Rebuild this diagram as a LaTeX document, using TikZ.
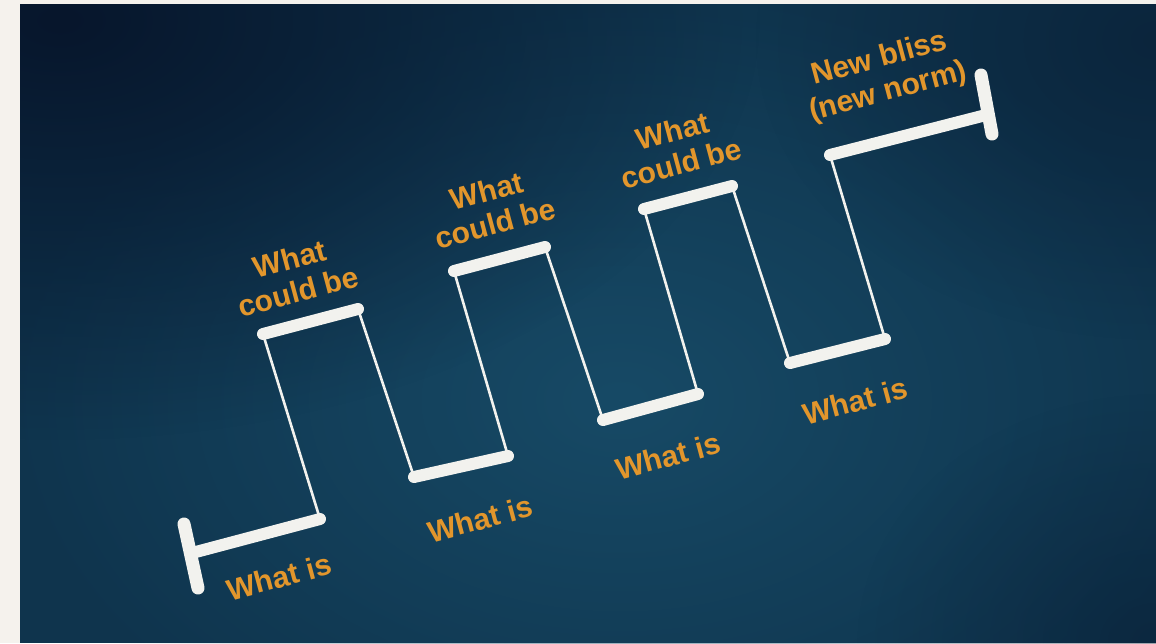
\documentclass[tikz,border=0pt]{standalone}
\usepackage{fontspec}
\usetikzlibrary{fadings}
\setmainfont{Liberation Sans}
\definecolor{paper}{RGB}{245,242,237}
\definecolor{bgbase}{RGB}{15,52,77}
\definecolor{bglight}{RGB}{23,74,102}
\definecolor{bgdark}{RGB}{7,22,44}
\definecolor{chalk}{RGB}{242,242,238}
\definecolor{labelc}{RGB}{226,150,44}
\tikzfading[name=softglow, inner color=transparent!0, outer color=transparent!100]
\tikzset{
  bar/.style={draw=chalk, line width=12pt, line cap=round},
  tbar/.style={draw=chalk, line width=13pt, line cap=round},
  thin/.style={draw=chalk, line width=2.6pt, line cap=round},
  lab/.style={text=labelc, font=\bfseries\fontsize{30}{34}\selectfont, rotate=15, align=center, inner sep=0pt}
}
\begin{document}
\begin{tikzpicture}[x=1pt,y=-1pt]
\useasboundingbox (0,0) rectangle (1156,643);
\fill[paper] (0,0) rectangle (1156,643);
\begin{scope}
\clip (20,4) rectangle (1156,643);
\fill[bgbase] (20,4) rectangle (1156,643);
\fill[bglight, path fading=softglow] (620,400) ellipse [x radius=620, y radius=420];
\fill[bgdark, path fading=softglow] (60,20) ellipse [x radius=700, y radius=420];
\fill[bgdark, path fading=softglow, opacity=0.5] (1156,40) ellipse [x radius=400, y radius=300];
\fill[bgdark, path fading=softglow, opacity=0.4] (1156,643) ellipse [x radius=300, y radius=250];
\end{scope}
% corner coordinates of the wave
\coordinate (s1) at (184,524); \coordinate (s2) at (198,588);
\coordinate (b1a) at (192,553); \coordinate (b1b) at (320,519);
\coordinate (t1a) at (263,334); \coordinate (t1b) at (358,309);
\coordinate (b2a) at (414,477); \coordinate (b2b) at (508,456);
\coordinate (t2a) at (454,271); \coordinate (t2b) at (545,247);
\coordinate (b3a) at (603,420); \coordinate (b3b) at (698,394);
\coordinate (t3a) at (644,209); \coordinate (t3b) at (732,186);
\coordinate (b4a) at (790,363); \coordinate (b4b) at (885,339);
\coordinate (t4a) at (830,155); \coordinate (t4b) at (986,115);
\coordinate (e1) at (981,75); \coordinate (e2) at (992,134);
% thin risers and fallers
\draw[thin] (b1b) -- (t1a);
\draw[thin] (t1b) -- (b2a);
\draw[thin] (b2b) -- (t2a);
\draw[thin] (t2b) -- (b3a);
\draw[thin] (b3b) -- (t3a);
\draw[thin] (t3b) -- (b4a);
\draw[thin] (b4b) -- (t4a);
% thick levels
\draw[tbar] (s1) -- (s2);
\draw[bar] (b1a) -- (b1b);
\draw[bar] (t1a) -- (t1b);
\draw[bar] (b2a) -- (b2b);
\draw[bar] (t2a) -- (t2b);
\draw[bar] (b3a) -- (b3b);
\draw[bar] (t3a) -- (t3b);
\draw[bar] (b4a) -- (b4b);
\draw[bar] (t4a) -- (t4b);
\draw[tbar] (e1) -- (e2);
% labels
\node[lab] (w1) at (279,577) {What is};
\node[lab] (c1) at (294,275) {What\\could be};
\node[lab] (w2) at (480,519) {What is};
\node[lab] (c2) at (491,207) {What\\could be};
\node[lab] (w3) at (668,456) {What is};
\node[lab] (c3) at (677,147) {What\\could be};
\node[lab] (w4) at (855,401) {What is};
\node[lab] (n1) at (884,76) {New bliss\\(new norm)};
\end{tikzpicture}
\end{document}
